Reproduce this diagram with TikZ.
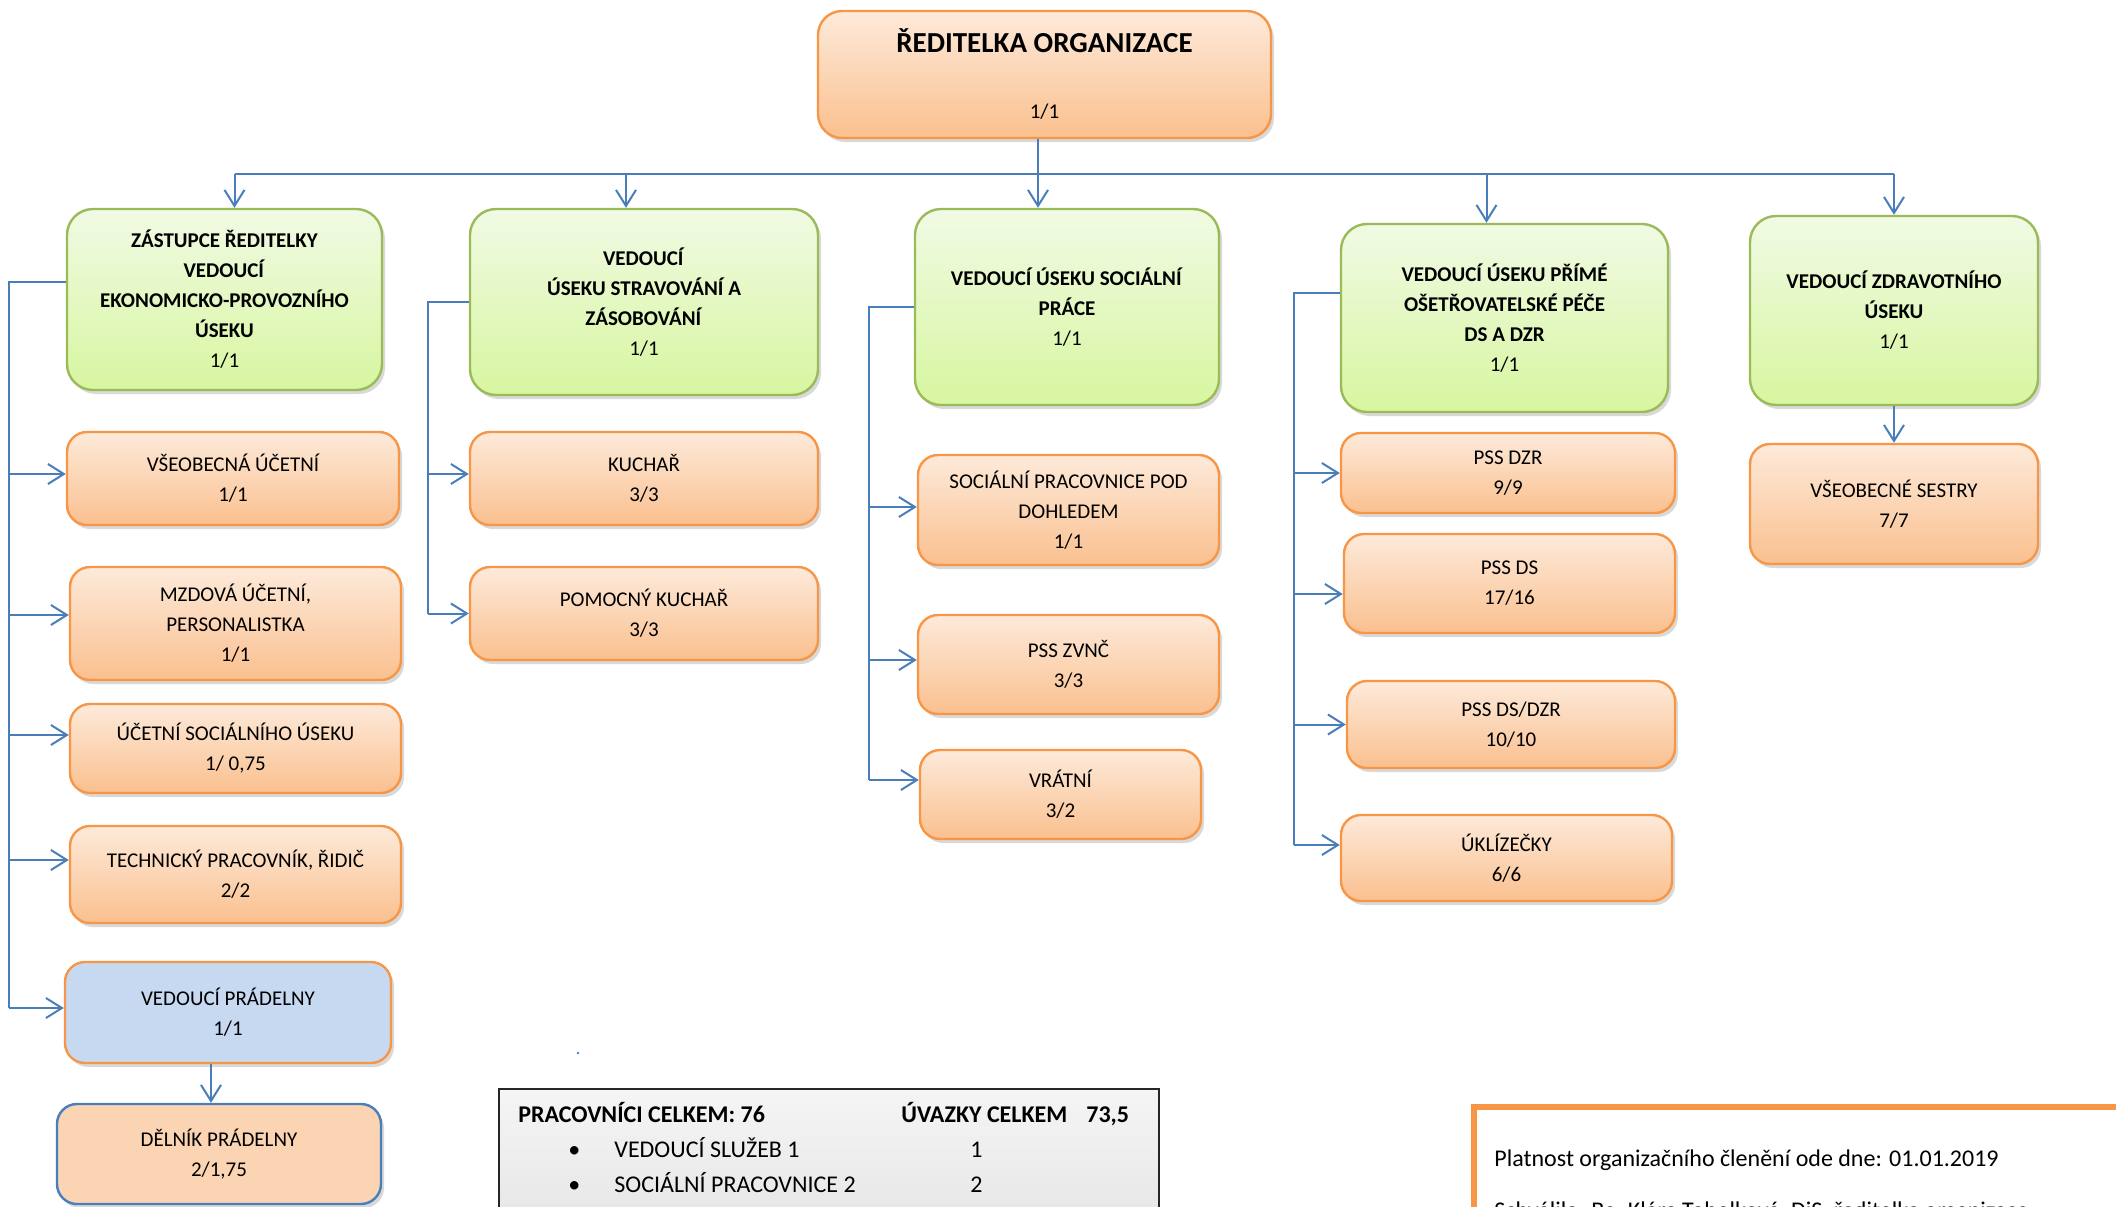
\documentclass[tikz,border=0pt]{standalone}
\usepackage{fontspec}
\setmainfont{Carlito}
\usetikzlibrary{arrows.meta,shadows}

\definecolor{orgB}{RGB}{247,150,70}
\definecolor{orgT}{RGB}{253,234,218}
\definecolor{orgM}{RGB}{250,192,143}
\definecolor{grnB}{RGB}{155,187,89}
\definecolor{grnT}{RGB}{241,250,228}
\definecolor{grnM}{RGB}{215,246,160}
\definecolor{lnC}{RGB}{74,126,187}
\definecolor{pradF}{RGB}{198,217,241}
\definecolor{delF}{RGB}{251,212,180}

\begin{document}
\begin{tikzpicture}[x=0.5pt, y=-0.5pt, >={Straight Barb[length=8pt,width=10pt]},
    line/.style={draw=lnC, line width=1pt},
    base/.style={align=center, font=\fontsize{10.5}{15}\selectfont, inner sep=2pt,
        drop shadow={shadow xshift=1.5pt, shadow yshift=-2pt, opacity=0.3}},
    gbox/.style={base, draw=grnB, line width=1.2pt, rounded corners=13pt, top color=grnT, bottom color=grnM},
    obox/.style={base, draw=orgB, line width=1.2pt, rounded corners=10pt, top color=orgT, bottom color=orgM},
    txt/.style={anchor=base west, inner sep=0pt, font=\fontsize{12}{14}\selectfont}]
\useasboundingbox (0,0) rectangle (2116,1206);
\clip (0,0) rectangle (2116,1206);

% vedeni
\node[obox, minimum width=226.5pt, minimum height=63.5pt, rounded corners=12pt] (top) at (1044.5,74.5)
    {{\fontsize{14.5}{17}\selectfont\bfseries ŘEDITELKA ORGANIZACE}\\[18pt]1/1};

\node[gbox, minimum width=157.5pt, minimum height=90.5pt] (g1) at (224.5,299.5)
    {\textbf{ZÁSTUPCE ŘEDITELKY}\\\textbf{VEDOUCÍ}\\\textbf{EKONOMICKO-PROVOZNÍHO}\\\textbf{ÚSEKU}\\1/1};
\node[gbox, minimum width=174pt, minimum height=93pt] (g2) at (644,302)
    {\textbf{VEDOUCÍ}\\\textbf{ÚSEKU STRAVOVÁNÍ A}\\\textbf{ZÁSOBOVÁNÍ}\\1/1};
\node[gbox, minimum width=152pt, minimum height=98pt] (g3) at (1067,307)
    {\textbf{VEDOUCÍ ÚSEKU SOCIÁLNÍ}\\\textbf{PRÁCE}\\1/1};
\node[gbox, minimum width=163.5pt, minimum height=94pt] (g4) at (1504.5,318)
    {\textbf{VEDOUCÍ ÚSEKU PŘÍMÉ}\\\textbf{OŠETŘOVATELSKÉ PÉČE}\\\textbf{DS A DZR}\\1/1};
\node[gbox, minimum width=144pt, minimum height=94.5pt] (g5) at (1894,310.5)
    {\textbf{VEDOUCÍ ZDRAVOTNÍHO}\\\textbf{ÚSEKU}\\1/1};

% ekonomicko-provozni usek
\node[obox, minimum width=166pt, minimum height=46.5pt] (a1) at (233,478.5) {VŠEOBECNÁ ÚČETNÍ\\1/1};
\node[obox, minimum width=165.5pt, minimum height=56.5pt] (a2) at (235.5,623.5) {MZDOVÁ ÚČETNÍ,\\PERSONALISTKA\\1/1};
\node[obox, minimum width=165.5pt, minimum height=44.5pt] (a3) at (235.5,748.5) {ÚČETNÍ SOCIÁLNÍHO ÚSEKU\\1/ 0,75};
\node[obox, minimum width=165.5pt, minimum height=48.5pt] (a4) at (235.5,874.5) {TECHNICKÝ PRACOVNÍK, ŘIDIČ\\2/2};
\node[obox, top color=pradF, bottom color=pradF, minimum width=163pt, minimum height=50.5pt] (a5) at (228,1012.5) {VEDOUCÍ PRÁDELNY\\1/1};
\node[obox, draw=lnC, top color=delF, bottom color=delF, minimum width=162pt, minimum height=50pt] (a6) at (219,1154) {DĚLNÍK PRÁDELNY\\2/1,75};

% stravovani
\node[obox, minimum width=174pt, minimum height=46.5pt] (b1) at (644,478.5) {KUCHAŘ\\3/3};
\node[obox, minimum width=174pt, minimum height=46.5pt] (b2) at (644,613.5) {POMOCNÝ KUCHAŘ\\3/3};

% socialni prace
\node[obox, minimum width=150.5pt, minimum height=55pt] (c1) at (1068.5,510) {SOCIÁLNÍ PRACOVNICE POD\\DOHLEDEM\\1/1};
\node[obox, minimum width=150.5pt, minimum height=49.5pt] (c2) at (1068.5,664.5) {PSS ZVNČ\\3/3};
\node[obox, minimum width=140.5pt, minimum height=44.5pt] (c3) at (1060.5,794.5) {VRÁTNÍ\\3/2};

% prima pece
\node[obox, minimum width=167pt, minimum height=40pt] (d1) at (1508,473) {PSS DZR\\9/9};
\node[obox, minimum width=165.5pt, minimum height=49.5pt] (d2) at (1509.5,583.5) {PSS DS\\17/16};
\node[obox, minimum width=164pt, minimum height=43.5pt] (d3) at (1511,724.5) {PSS DS/DZR\\10/10};
\node[obox, minimum width=165.5pt, minimum height=43pt] (d4) at (1506.5,858) {ÚKLÍZEČKY\\6/6};

% zdravotni usek
\node[obox, minimum width=144pt, minimum height=60pt] (e1) at (1894,504) {VŠEOBECNÉ SESTRY\\7/7};

% spojnice
\coordinate (bus) at (0,174);
\draw[line, ->] ([xshift=-3.25pt]top.south) -- ([xshift=-3.25pt]top.south |- g3.north);
\draw[line] ([xshift=5pt]g1.north |- bus) -- (g5.north |- bus);
\draw[line, ->] ([xshift=5pt]g1.north |- bus) -- ([xshift=5pt]g1.north);
\draw[line, ->] ([xshift=-9pt]g2.north |- bus) -- ([xshift=-9pt]g2.north);
\draw[line, ->] ([xshift=-9pt]g4.north |- bus) -- ([xshift=-9pt]g4.north);
\draw[line, ->] (g5.north |- bus) -- (g5.north);

\coordinate (s1) at (9,282);
\path ([yshift=2.25pt]a5.west) coordinate (s1e);
\draw[line] ([yshift=8.75pt]g1.west) -- (s1) -- (s1 |- s1e);
\foreach \b/\d in {a1/2.25,a2/4.25,a3/6.75,a4/7.25,a5/2.25}{
    \path ([yshift=\d pt]\b.west) coordinate (t);
    \draw[line, ->] (s1 |- t) -- (t);}
\draw[line, ->] ([xshift=-8.5pt]a5.south) -- ([xshift=-8.5pt]a5.south |- a6.north);

\coordinate (s2) at (428,302);
\draw[line] (g2.west) -- (s2) -- (s2 |- b2.west);
\foreach \b/\d in {b1/2.25,b2/0}{
    \path ([yshift=\d pt]\b.west) coordinate (t);
    \draw[line, ->] (s2 |- t) -- (t);}

\coordinate (s3) at (869,307);
\path ([yshift=7.25pt]c3.west) coordinate (s3e);
\draw[line] (g3.west) -- (s3) -- (s3 |- s3e);
\foreach \b/\d in {c1/1.5,c2/2.25,c3/7.25}{
    \path ([yshift=\d pt]\b.west) coordinate (t);
    \draw[line, ->] (s3 |- t) -- (t);}

\coordinate (s4) at (1294,293);
\path ([yshift=6.5pt]d4.west) coordinate (s4e);
\draw[line] ([yshift=12.5pt]g4.west) -- (s4) -- (s4 |- s4e);
\foreach \b/\d in {d1/0,d2/-5.25,d3/0,d4/6.5}{
    \path ([yshift=\d pt]\b.west) coordinate (t);
    \draw[line, ->] (s4 |- t) -- (t);}

\draw[line, ->] (g5.south) -- (e1.north);

\fill[lnC] (578,1053) circle (0.7pt);

% souhrn
\node[draw=black!85, line width=1pt, top color=gray!8, bottom color=gray!25,
    minimum width=330pt, minimum height=101pt, anchor=north west] (sum) at (498,1088) {};
\node[txt] (tot) at (518,1122) {\bfseries PRACOVNÍCI CELKEM: 76};
\node[txt] (uv) at (901,1122) {\bfseries ÚVAZKY CELKEM};
\node[txt] (uvn) at (1086,1122) {\bfseries 73,5};
\node[txt] (bl1) at (568,1157) {\textbullet};
\node[txt] (it1) at (614,1157) {VEDOUCÍ SLUŽEB 1};
\node[txt] (nm1) at (970,1157) {1};
\node[txt] (bl2) at (568,1192) {\textbullet};
\node[txt] (it2) at (614,1192) {SOCIÁLNÍ PRACOVNICE 2};
\node[txt] (nm2) at (970,1192) {2};

% platnost
\node[draw=orgB, line width=3pt, fill=white, minimum width=350pt, minimum height=98pt,
    anchor=north west] (note) at (1471,1104) {};
\node[txt] (plat) at (1494,1166) {Platnost organizačního členění ode dne: 01.01.2019};
\node[txt] (schv) at (1494,1218) {Schválila: Bc. Klára Tobolková, DiS. ředitelka organizace};
\end{tikzpicture}
\end{document}
